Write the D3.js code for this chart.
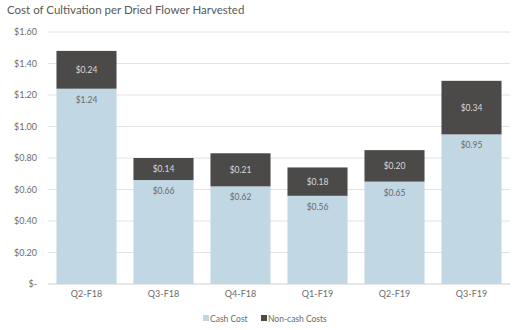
<!DOCTYPE html>
<html>
<head>
<meta charset="utf-8">
<script src="https://d3js.org/d3.v7.min.js"></script>
<style>
  body { margin: 0; background: #fff; }
  text { font-family: Lato, "Open Sans", sans-serif; }
</style>
</head>
<body>
<script>
// quarters and per-gram cost components
var quarters = ["Q2-F18", "Q3-F18", "Q4-F18", "Q1-F19", "Q2-F19", "Q3-F19"];
var cashCost = [1.24, 0.66, 0.62, 0.56, 0.65, 0.95];
var nonCashCost = [0.24, 0.14, 0.21, 0.18, 0.20, 0.34];
var yTicks = [0, 0.2, 0.4, 0.6, 0.8, 1.0, 1.2, 1.4, 1.6];

var W = 514, H = 330;
var svg = d3.select("body").append("svg").attr("width", W).attr("height", H);

var x = d3.scaleBand().domain(quarters).range([48, 510]).paddingInner(0.22).paddingOuter(0.11);
var y = d3.scaleLinear().domain([0, 1.6]).range([284, 32]);

svg.append("text").attr("x", 7).attr("y", 14)
  .style("font-size", "11.5px").style("fill", "#595959")
  .text("Cost of Cultivation per Dried Flower Harvested");

// gridlines
svg.selectAll(".grid").data(yTicks).enter().append("line")
  .attr("x1", 48).attr("x2", 510)
  .attr("y1", function (d) { return y(d); }).attr("y2", function (d) { return y(d); })
  .style("stroke", function (d) { return d === 0 ? "#d0d0d0" : "#e2e2e2"; })
  .style("stroke-width", 1);

var fmt = function (d) { return d === 0 ? "$-" : "$" + d.toFixed(2); };
var yAxis = d3.axisLeft(y).tickValues(yTicks).tickFormat(fmt).tickSize(0).tickPadding(0);
var ga = svg.append("g").attr("transform", "translate(37,0)").call(yAxis);
ga.select(".domain").remove();
ga.selectAll("text").style("font-size", "9px").style("fill", "#6b6b6b").style("font-family", "Lato, sans-serif");

// stacked bars
var rows = quarters.map(function (q, i) { return { q: q, cash: cashCost[i], non: nonCashCost[i] }; });

svg.selectAll(".cash").data(rows).enter().append("rect")
  .attr("x", function (d) { return x(d.q); })
  .attr("width", x.bandwidth())
  .attr("y", function (d) { return y(d.cash); })
  .attr("height", function (d) { return y(0) - y(d.cash); })
  .style("fill", "#c1d7e3");

svg.selectAll(".non").data(rows).enter().append("rect")
  .attr("x", function (d) { return x(d.q); })
  .attr("width", x.bandwidth())
  .attr("y", function (d) { return y(d.cash + d.non); })
  .attr("height", function (d) { return y(d.cash) - y(d.cash + d.non); })
  .style("fill", "#4b4a48");

svg.selectAll(".nonLbl").data(rows).enter().append("text")
  .attr("x", function (d) { return x(d.q) + x.bandwidth() / 2; })
  .attr("y", function (d) { return (y(d.cash) + y(d.cash + d.non)) / 2 + 3; })
  .attr("text-anchor", "middle")
  .style("font-size", "8.5px").style("fill", "#d8d8d8")
  .text(function (d) { return "$" + d.non.toFixed(2); });

svg.selectAll(".cashLbl").data(rows).enter().append("text")
  .attr("x", function (d) { return x(d.q) + x.bandwidth() / 2; })
  .attr("y", function (d) { return y(d.cash) + 14; })
  .attr("text-anchor", "middle")
  .style("font-size", "8.5px").style("fill", "#6a6a6a")
  .text(function (d) { return "$" + d.cash.toFixed(2); });

// category axis
var xAxis = d3.axisBottom(x).tickSize(0).tickPadding(0);
var gx = svg.append("g").attr("transform", "translate(0,291)").call(xAxis);
gx.select(".domain").remove();
gx.selectAll("text").style("font-size", "9px").style("fill", "#6b6b6b").style("font-family", "Lato, sans-serif");

// legend
var legend = [
  { name: "Cash Cost", color: "#c1d7e3", x: 203 },
  { name: "Non-cash Costs", color: "#4b4a48", x: 261 }
];
var lg = svg.selectAll(".lg").data(legend).enter().append("g");
lg.append("rect").attr("x", function (d) { return d.x; }).attr("y", 315)
  .attr("width", 6).attr("height", 6).style("fill", function (d) { return d.color; });
lg.append("text").attr("x", function (d) { return d.x + 7; }).attr("y", 321.5)
  .style("font-size", "8.5px").style("fill", "#6b6b6b")
  .text(function (d) { return d.name; });
</script>
</body>
</html>
